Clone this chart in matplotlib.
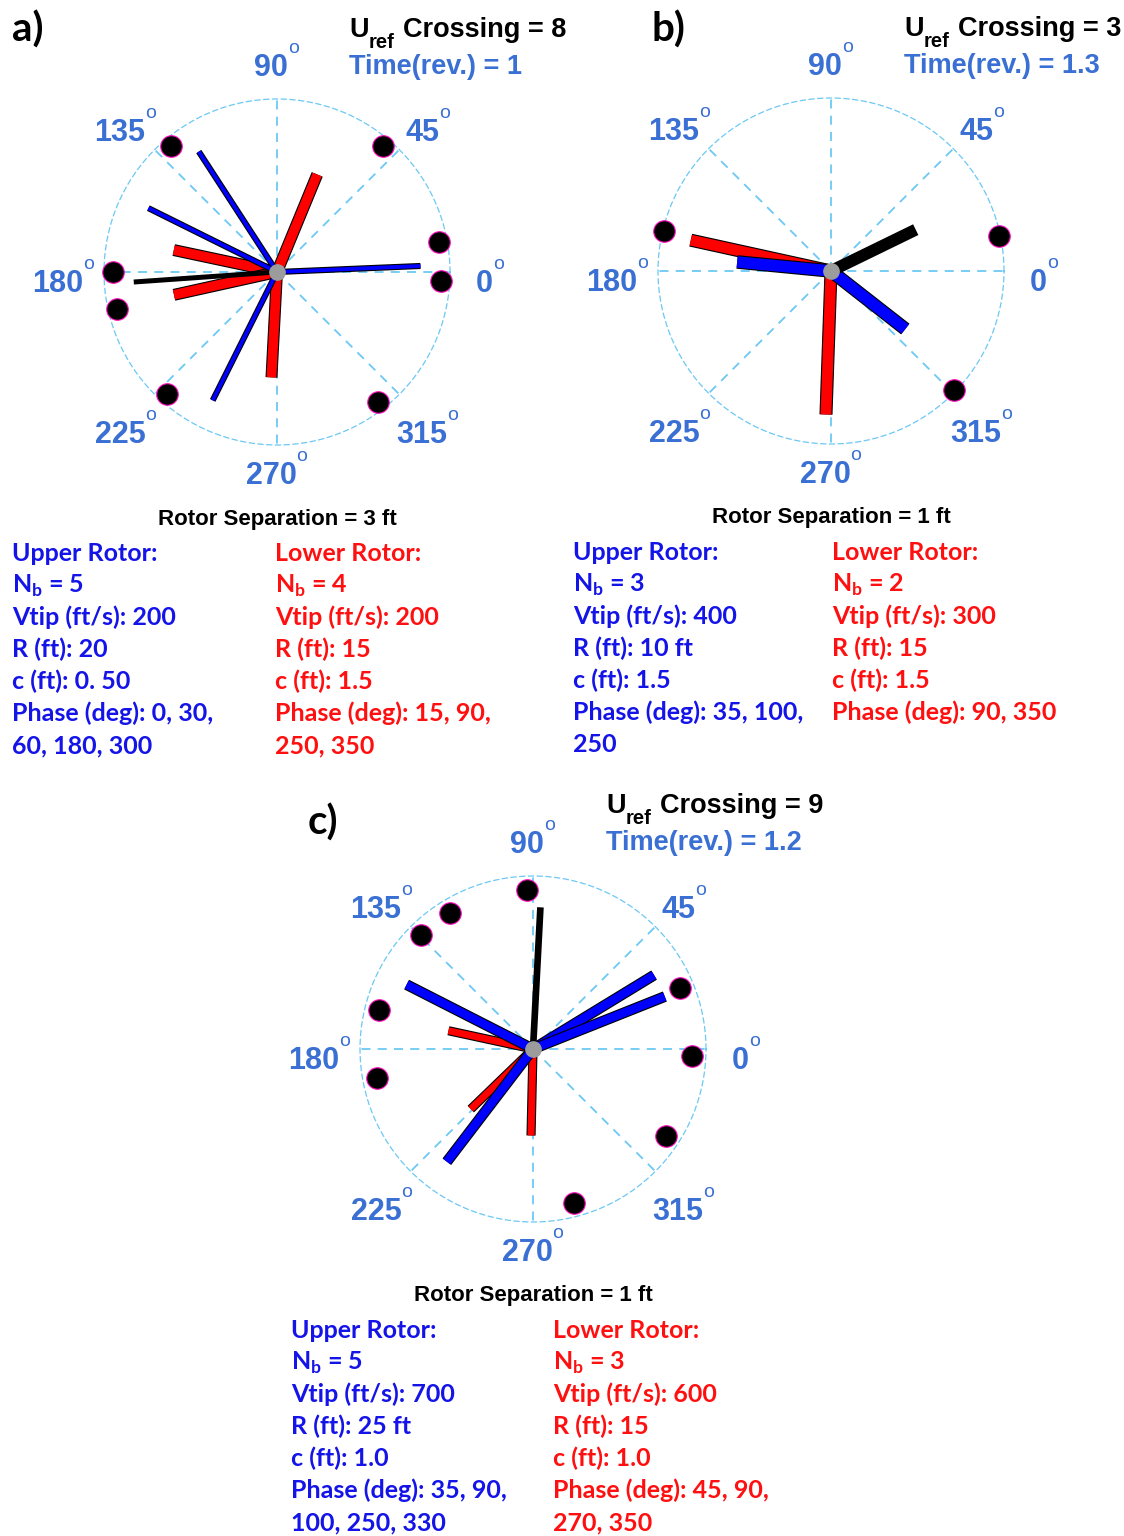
import numpy as np
import matplotlib.pyplot as plt
import matplotlib.patheffects as pe

plt.rcParams['font.family'] = ['Liberation Sans', 'DejaVu Sans']

# ---- data (angles in degrees, lengths as fraction of circle radius)
a_upper_deg = [2.4, 123, 153.6, 243.4]
a_ref_deg = [184]
a_lower_deg = [67.6, 168, 192.5, 267]
a_upper_len = 0.83
a_lower_len = 0.61
a_cross_deg = [130, 50, 10.6, 357, 180, 193, 228, 308]
a_cross_r = 0.95

b_upper_deg = [174.5, 322]
b_ref_deg = [26]
b_lower_deg = [167.6, 268]
b_upper_len = 0.545
b_lower_len = 0.83
b_cross_deg = [166.5, 11.8, 316]
b_cross_r = 0.99

c_upper_deg = [31.4, 21.7, 153, 232.6]
c_ref_deg = [87]
c_lower_deg = [167.8, 224, 268.7]
c_upper_len = 0.82
c_lower_len = 0.5
c_cross_deg = [92, 121.4, 134.5, 166, 190.5, 22.5, 357.5, 326.7, 284.8]
c_cross_r = 0.92

a_crossing, b_crossing, c_crossing = 8, 3, 9
a_time, b_time, c_time = '1', '1.3', '1.2'
a_sep, b_sep, c_sep = 3, 1, 1

a_upper_txt = ['Upper Rotor:', r'N$_\mathregular{b}$ = 5', 'Vtip (ft/s): 200', 'R (ft): 20',
               'c (ft): 0. 50', 'Phase (deg): 0, 30,', '60, 180, 300']
a_lower_txt = ['Lower Rotor:', r'N$_\mathregular{b}$ = 4', 'Vtip (ft/s): 200', 'R (ft): 15',
               'c (ft): 1.5', 'Phase (deg): 15, 90,', '250, 350']
b_upper_txt = ['Upper Rotor:', r'N$_\mathregular{b}$ = 3', 'Vtip (ft/s): 400', 'R (ft): 10 ft',
               'c (ft): 1.5', 'Phase (deg): 35, 100,', '250']
b_lower_txt = ['Lower Rotor:', r'N$_\mathregular{b}$ = 2', 'Vtip (ft/s): 300', 'R (ft): 15',
               'c (ft): 1.5', 'Phase (deg): 90, 350']
c_upper_txt = ['Upper Rotor:', r'N$_\mathregular{b}$ = 5', 'Vtip (ft/s): 700', 'R (ft): 25 ft',
               'c (ft): 1.0', 'Phase (deg): 35, 90,', '100, 250, 330']
c_lower_txt = ['Lower Rotor:', r'N$_\mathregular{b}$ = 3', 'Vtip (ft/s): 600', 'R (ft): 15',
               'c (ft): 1.0', 'Phase (deg): 45, 90,', '270, 350']

# ---- style
W, H = 1124, 1536
R_PX = 173
GRID = '#6cc8f4'
LBL = '#3a6fd3'
BLUE = '#0000ff'
RED = '#ff0000'
TXT_BLUE = '#1414e8'
TXT_RED = '#ff1010'

fig = plt.figure(figsize=(W / 100, H / 100), dpi=100)


def fx(x):
    return x / W


def fy(y):
    return 1 - y / H


def blades(ax, degs, length, color, lw, z):
    for d in degs:
        effects = [pe.Stroke(linewidth=lw + 1.6, foreground='k', capstyle='butt'), pe.Normal()]
        ax.plot([np.radians(d)] * 2, [0, length], color=color, lw=lw,
                solid_capstyle='butt', path_effects=effects, zorder=z, clip_on=False)


def rotor_panel(cx, cy, upper, ref, lower, ulen, llen, cross, cr, widths):
    ax = fig.add_axes([fx(cx - R_PX), fy(cy + R_PX), 2 * R_PX / W, 2 * R_PX / H],
                      projection='polar')
    ax.set_ylim(0, 1)
    ax.set_xticks(np.radians(np.arange(0, 360, 45)))
    ax.set_xticklabels([])
    ax.set_yticks([])
    ax.tick_params(length=0)
    ax.grid(True, axis='x', color=GRID, ls=(0, (5, 4)), lw=1.3)
    ax.spines['polar'].set_color(GRID)
    ax.spines['polar'].set_linestyle((0, (4, 3)))
    ax.spines['polar'].set_linewidth(0.9)

    wu, wl, wr = widths
    blades(ax, lower, llen, RED, wl, 3)
    blades(ax, upper, ulen, BLUE, wu, 4)
    for d in ref:
        ax.plot([np.radians(d)] * 2, [0, ulen], color='k', lw=wr,
                solid_capstyle='butt', zorder=4.5)
    ax.plot(np.radians(cross), [cr] * len(cross), 'o', ms=15.5, mfc='k', mec='#ff10c0',
            mew=0.8, ls='none', clip_on=False, zorder=5)
    ax.plot([0], [0], 'o', ms=11, color='#9c9c9c', clip_on=False, zorder=6)

    for d in range(0, 360, 45):
        if d in (90, 270):
            r, oy = 1.18, 0
        else:
            r, oy = 1.235, -12
        t = ax.annotate(str(d), xy=(np.radians(d), r), xytext=(-6, oy),
                        textcoords='offset pixels', ha='center', va='center',
                        fontsize=22, fontweight='bold', color=LBL, annotation_clip=False)
        ax.annotate('o', xy=(1, 1), xycoords=t, xytext=(0, 0), textcoords='offset pixels',
                    ha='left', va='baseline', fontsize=14, color=LBL)
    return ax


def header(x, y, label, lx, ly, crossing, time):
    fig.text(fx(x), fy(y), 'U', fontsize=19.5, fontweight='bold', color='k', va='baseline')
    fig.text(fx(x + 20), fy(y + 11), 'ref', fontsize=14.5, fontweight='bold', color='k',
             va='baseline')
    fig.text(fx(x + 54), fy(y), 'Crossing = %d' % crossing,
             fontsize=19.5, fontweight='bold', color='k', va='baseline')
    fig.text(fx(x), fy(y + 37), 'Time(rev.) = %s' % time,
             fontsize=19.5, fontweight='bold', color=LBL, va='baseline')
    fig.text(fx(lx), fy(ly), label, fontsize=29, fontweight='bold', color='k',
             va='center', family='Lato')


def info(cx, sep_y, ux, lx, upper, lower, sep):
    fig.text(fx(cx), fy(sep_y), 'Rotor Separation = %d ft' % sep, fontsize=16,
             fontweight='bold', color='k', ha='center', va='center')
    for i, s in enumerate(upper):
        fig.text(fx(ux), fy(sep_y + 42 + 32 * i), s, fontsize=18, fontweight='bold',
                 family='Lato', color=TXT_BLUE, va='baseline')
    for i, s in enumerate(lower):
        fig.text(fx(lx), fy(sep_y + 42 + 32 * i), s, fontsize=18, fontweight='bold',
                 family='Lato', color=TXT_RED, va='baseline')


# panel a
rotor_panel(277, 272, a_upper_deg, a_ref_deg, a_lower_deg, a_upper_len, a_lower_len,
            a_cross_deg, a_cross_r, (2.8, 7.0, 3.6))
header(349, 37, 'a)', 12, 30, a_crossing, a_time)
info(277, 519, 12, 275, a_upper_txt, a_lower_txt, a_sep)

# panel b
rotor_panel(831, 271, b_upper_deg, b_ref_deg, b_lower_deg, b_upper_len, b_lower_len,
            b_cross_deg, b_cross_r, (8.2, 7.8, 8.6))
header(904, 36, 'b)', 651, 30, b_crossing, b_time)
info(831, 518, 573, 832, b_upper_txt, b_lower_txt, b_sep)

# panel c
rotor_panel(533, 1049, c_upper_deg, c_ref_deg, c_lower_deg, c_upper_len, c_lower_len,
            c_cross_deg, c_cross_r, (6.2, 5.0, 4.8))
header(606, 813, 'c)', 308, 823, c_crossing, c_time)
info(533, 1296, 291, 553, c_upper_txt, c_lower_txt, c_sep)

fig.savefig('out.png', dpi=100)
